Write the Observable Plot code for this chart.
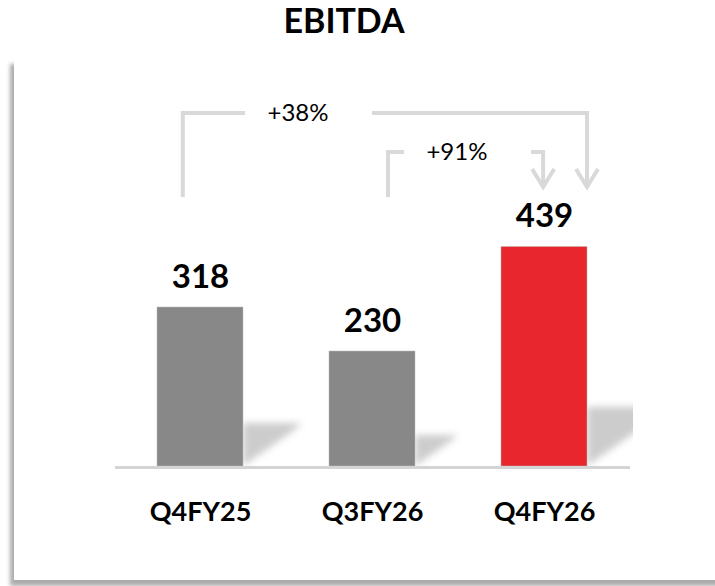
<!DOCTYPE html>
<html>
<head>
<meta charset="utf-8">
<script src="https://cdn.jsdelivr.net/npm/d3@7"></script>
<script src="https://cdn.jsdelivr.net/npm/@observablehq/plot@0.6"></script>
<style>
  html, body { margin: 0; padding: 0; background: #fff; }
  #wrap { position: relative; width: 715px; height: 586px; overflow: hidden; font-family: Lato, "Open Sans", sans-serif; }
  #frame { position: absolute; left: 14px; top: 58px; width: 740px; height: 522px; background: #fff;
           box-shadow: -4px 6px 4px rgba(0,0,0,0.33); }
  #title { position: absolute; left: 0; top: 0; width: 688px; text-align: center; font-size: 34px; font-weight: 700;
           line-height: 40px; color: #000; }
  #chart { position: absolute; left: 0; top: 60px; }
</style>
</head>
<body>
<div id="wrap">
  <div id="frame"></div>
  <div id="title">EBITDA</div>
  <div id="chart"></div>
</div>
<script>
// ---- data ----
const categories = ["Q4FY25", "Q3FY26", "Q4FY26"];
const values = [318, 230, 439];
const colors = ["#888888", "#888888", "#e8262d"];

// growth annotations (from → to), levels in value units
const annFrom = ["Q4FY25", "Q3FY26"];
const annTo = ["Q4FY26", "Q4FY26"];
const annLabels = ["+38%", "+91%"];
const annLevel = [706, 628];
const annLegBase = 538;
const annTip = 558;

const bars = categories.map((c, i) => ({cat: c, value: values[i], color: colors[i]}));
const anns = annFrom.map((f, i) => ({from: f, to: annTo[i], label: annLabels[i], level: annLevel[i]}));

// style-only placement fractions (relative to band width)
const legFromOff = [-0.2, 0.186];
const legToOff = [0.5, -0.01];
const labelPos = [0.285, 0.494];

function bandInfo(sx) {
  const bw = typeof sx.bandwidth === "function" ? sx.bandwidth() : sx.bandwidth;
  return {bw, c: (v) => sx(v) + bw / 2};
}

// shadows behind bars
function shadows(index, scales) {
  const sx = scales.x, sy = scales.y;
  const {bw} = bandInfo(sx);
  const g = d3.create("svg:g");
  const defs = g.append("defs");
  const f = defs.append("filter").attr("id", "sblur").attr("x", "-50%").attr("y", "-50%").attr("width", "200%").attr("height", "200%");
  f.append("feGaussianBlur").attr("stdDeviation", 3.5);
  defs.append("clipPath").attr("id", "sclip").append("rect")
    .attr("x", 0).attr("y", 0).attr("width", 633).attr("height", sy(0));
  const grp = g.append("g").attr("clip-path", "url(#sclip)");
  bars.forEach((b) => {
    const right = sx(b.cat) + bw;
    const y0 = sy(0);
    const h = y0 - sy(b.value);
    const top = y0 - h * 0.27;
    const w = h * 0.37;
    grp.append("path")
      .attr("d", `M${right},${y0}L${right},${top}L${right + w},${top}L${right + w * 0.85},${top + h * 0.05}Z`)
      .attr("fill", "#c4c4c4")
      .attr("opacity", 0.85)
      .attr("filter", "url(#sblur)");
  });
  return g.node();
}

// bracket arrows
function brackets(index, scales) {
  const sx = scales.x, sy = scales.y;
  const {bw, c} = bandInfo(sx);
  const g = d3.create("svg:g");
  anns.forEach((a, i) => {
    const xl = c(a.from) + legFromOff[i] * bw;
    const xr = c(a.to) + legToOff[i] * bw;
    const yl = sy(a.level);
    const yb = sy(annLegBase);
    const yt = sy(annTip);
    const tx = c(a.from) + (c(a.to) - c(a.from)) * labelPos[i];
    const stroke = "#d9d9d9";
    g.append("path")
      .attr("d", `M${xl},${yb}V${yl}H${tx - 53}`)
      .attr("fill", "none").attr("stroke", stroke).attr("stroke-width", 4);
    g.append("path")
      .attr("d", `M${tx + 74},${yl}H${xr}V${yt - 1}`)
      .attr("fill", "none").attr("stroke", stroke).attr("stroke-width", 4);
    g.append("path")
      .attr("d", `M${xr - 11},${yt - 18}L${xr},${yt}L${xr + 11},${yt - 18}`)
      .attr("fill", "none").attr("stroke", stroke).attr("stroke-width", 4);
    g.append("text")
      .attr("x", tx).attr("y", yl + 8)
      .attr("text-anchor", "middle")
      .attr("font-family", "Lato, 'Open Sans', sans-serif")
      .attr("font-size", 24)
      .attr("fill", "#000")
      .text(a.label);
  });
  return g.node();
}

// baseline extended slightly beyond frame
function baseline(index, scales) {
  const sy = scales.y;
  const g = d3.create("svg:g");
  g.append("line")
    .attr("x1", 115).attr("x2", 630)
    .attr("y1", sy(0) + 1.5).attr("y2", sy(0) + 1.5)
    .attr("stroke", "#d4d4d4").attr("stroke-width", 3);
  return g.node();
}

const chart = Plot.plot({
  width: 715,
  height: 526,
  marginLeft: 71,
  marginRight: 42,
  marginTop: 0,
  marginBottom: 120,
  style: {background: "transparent", fontFamily: "Lato, 'Open Sans', sans-serif", overflow: "visible"},
  x: {domain: categories, padding: 0.5, axis: null},
  y: {domain: [0, 812], axis: null},
  marks: [
    shadows,
    Plot.barY(bars, {x: "cat", y: "value", fill: "color", stroke: "#bdbdbd", strokeWidth: 0.8, strokeOpacity: 0.6}),
    baseline,
    Plot.text(bars, {x: "cat", y: "value", text: (d) => String(d.value), lineAnchor: "bottom", dy: -20,
      fontSize: 33, fontWeight: 700, fill: "#000"}),
    Plot.text(bars, {x: "cat", y: 0, text: "cat", lineAnchor: "bottom", dy: 54,
      fontSize: 27, fontWeight: 700, fill: "#000"}),
    brackets
  ]
});
document.getElementById("chart").appendChild(chart);
</script>
</body>
</html>
